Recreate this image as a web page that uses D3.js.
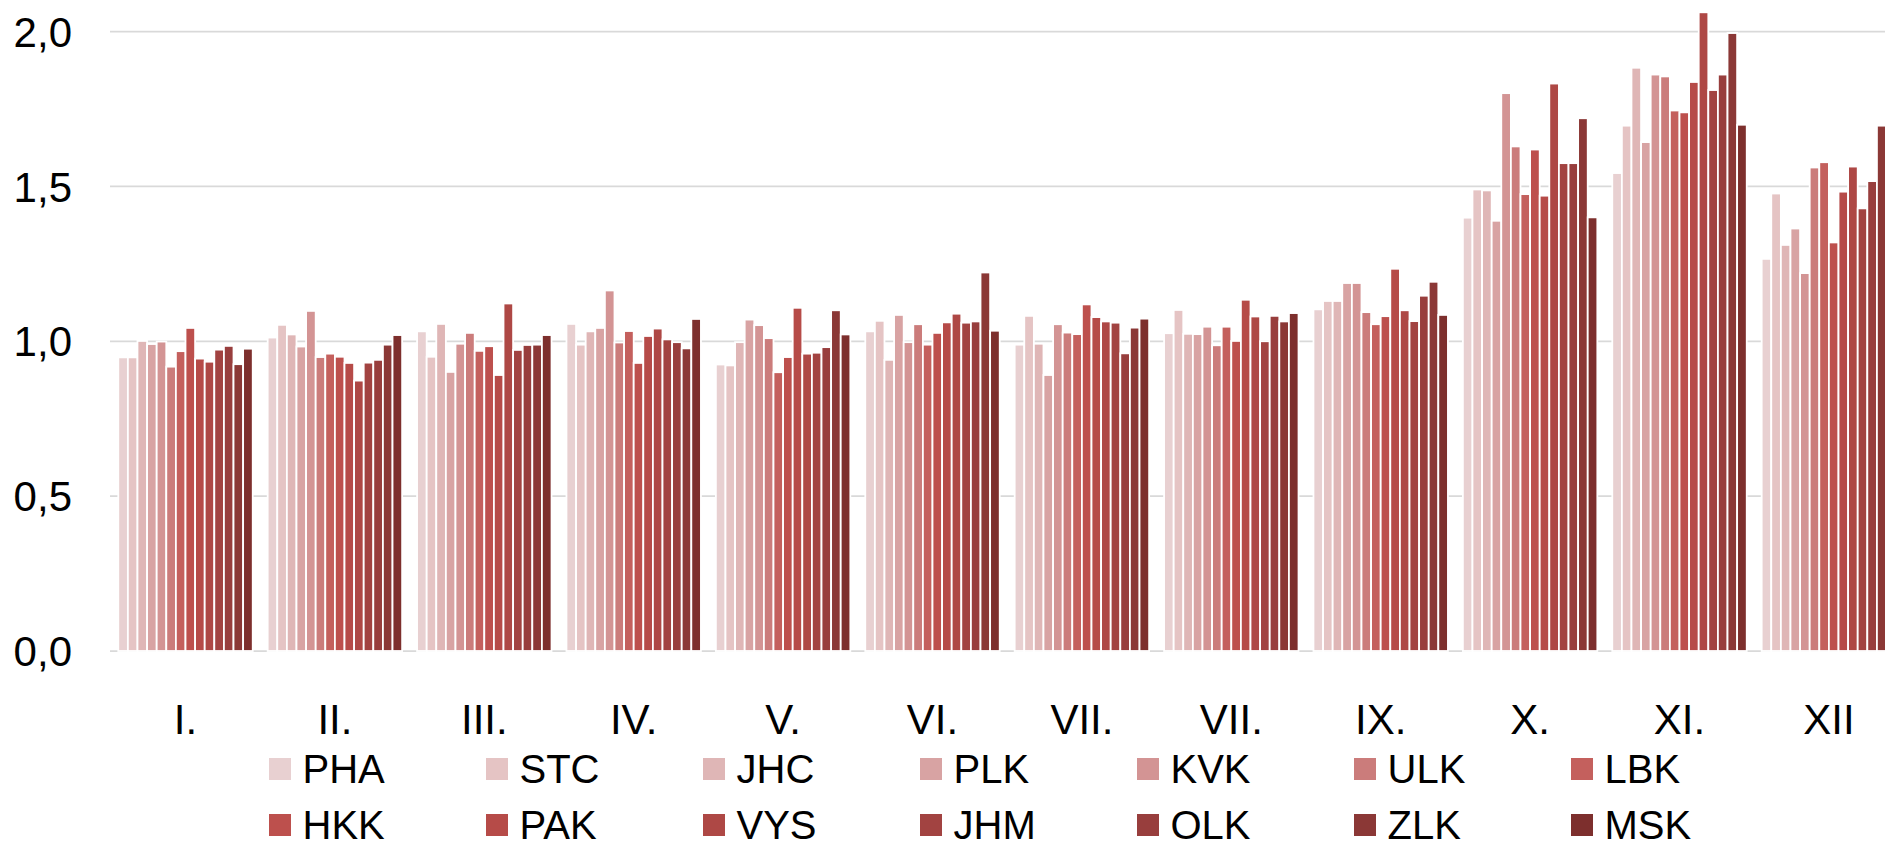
<!DOCTYPE html>
<html>
<head>
<meta charset="utf-8">
<script src="https://cdn.jsdelivr.net/npm/d3@7"></script>
<style>
	body { margin:0; background:#fff; overflow:hidden; }
	svg { display:block; font-family:"Liberation Sans", Arial, sans-serif; }
</style>
</head>
<body>
<div id="chart"></div>
<script>
'use strict';

// months (the 8th label really is "VII." in the source)
var months = ['I.','II.','III.','IV.','V.','VI.','VII.','VII.','IX.','X.','XI.','XII'];

// regions, in legend order
var regions = ['PHA','STC','JHC','PLK','KVK','ULK','LBK','HKK','PAK','VYS','JHM','OLK','ZLK','MSK'];
var colors  = ['#e8d0d1','#e5c4c4','#dfb6b6','#d8a3a3','#d39494','#cb7c7b','#c4605d',
               '#bd504d','#b64b48','#ae4845','#a24341','#983e3d','#8b3836','#7d2f2d'];

// values per region, I. .. XII
var PHA = [0.948,1.012,1.032,1.056,0.925,1.032,0.989,1.026,1.103,1.399,1.543,1.266];
var STC = [0.948,1.053,0.950,0.989,0.922,1.066,1.082,1.101,1.130,1.490,1.696,1.477];
var JHC = [1.001,1.022,1.056,1.032,0.997,0.940,0.992,1.024,1.130,1.487,1.883,1.311];
var PLK = [0.991,0.983,0.901,1.043,1.070,1.085,0.891,1.023,1.188,1.389,1.643,1.364];
var KVK = [0.999,1.098,0.992,1.164,1.052,0.997,1.055,1.047,1.188,1.801,1.861,1.220];
var ULK = [0.918,0.949,1.027,0.996,1.010,1.055,1.028,0.987,1.094,1.629,1.855,1.561];
var LBK = [0.968,0.960,0.969,1.033,0.900,0.989,1.023,1.047,1.055,1.475,1.745,1.578];
var HKK = [1.043,0.950,0.984,0.930,0.949,1.027,1.119,1.001,1.081,1.619,1.739,1.319];
var PAK = [0.944,0.930,0.891,1.017,1.108,1.061,1.078,1.134,1.234,1.470,1.837,1.483];
var VYS = [0.934,0.873,1.122,1.041,0.960,1.089,1.064,1.080,1.100,1.832,2.062,1.564];
var JHM = [0.973,0.931,0.972,1.006,0.963,1.060,1.060,1.000,1.065,1.575,1.811,1.429];
var OLK = [0.985,0.940,0.988,0.997,0.981,1.064,0.961,1.082,1.147,1.575,1.861,1.517];
var ZLK = [0.926,0.989,0.989,0.977,1.100,1.222,1.044,1.064,1.192,1.720,1.995,1.696];
var MSK = [0.976,1.020,1.020,1.072,1.022,1.034,1.073,1.091,1.085,1.400,1.699,1.600];

var yTicks = [0, 0.5, 1.0, 1.5, 2.0];

var seriesValues = [PHA,STC,JHC,PLK,KVK,ULK,LBK,HKK,PAK,VYS,JHM,OLK,ZLK,MSK];

// one row per month for the grouped bars
var rows = months.map(function(m, i){
	return {
		month: m,
		idx: i,
		values: regions.map(function(r, j){
			return {region: r, value: seriesValues[j][i]};
		})
	};
});

var width = 1885, height = 848;
var fontSize = 42;

var svg = d3.select('#chart')
	.append('svg')
		.attr('width', width)
		.attr('height', height);

// set the ranges (plot runs past the right edge, like the source)
var x0 = d3.scaleBand()
	.domain(d3.range(months.length))
	.range([110.8, 1903.6])
	.paddingInner(0.1)
	.paddingOuter(0.05);

var x1 = d3.scaleBand()
	.domain(regions)
	.range([0, x0.bandwidth()]);

var y = d3.scaleLinear()
	.domain([0, 2])
	.range([651, 31.5]);

var color = d3.scaleOrdinal().domain(regions).range(colors);

// gridlines
svg.append('g')
	.selectAll('line')
	.data(yTicks)
	.enter()
		.append('line')
		.attr('x1', 110)
		.attr('x2', width)
		.attr('y1', function(d){ return y(d); })
		.attr('y2', function(d){ return y(d); })
		.attr('stroke', '#d9d9d9')
		.attr('stroke-width', 1.75);

// y labels
var yAxis = svg.append('g')
	.attr('transform', 'translate(72,0)')
	.call(d3.axisLeft(y).tickValues(yTicks).tickSize(0).tickPadding(0)
		.tickFormat(function(d){ return d3.format('.1f')(d).replace('.', ','); }));
yAxis.select('.domain').remove();
yAxis.selectAll('text')
	.attr('font-size', fontSize)
	.attr('font-family', null)
	.attr('fill', '#000')
	.attr('dy', '0.35em');

// bars
var groups = svg.append('g')
	.selectAll('g')
	.data(rows)
	.enter()
		.append('g')
		.attr('transform', function(d){ return 'translate(' + x0(d.idx) + ',0)'; });

groups.selectAll('rect')
	.data(function(d){ return d.values; })
	.enter()
		.append('rect')
		.attr('x', function(d){ return x1(d.region); })
		.attr('width', x1.bandwidth())
		.attr('y', function(d){ return y(d.value); })
		.attr('height', function(d){ return y(0) - y(d.value); })
		.attr('fill', function(d){ return color(d.region); })
		.attr('stroke', '#fff')
		.attr('stroke-width', 1.8);

// x labels
var xAxis = svg.append('g')
	.attr('transform', 'translate(0,' + y(0) + ')')
	.call(d3.axisBottom(x0).tickSize(0).tickPadding(0)
		.tickFormat(function(i){ return months[i]; }));
xAxis.select('.domain').remove();
xAxis.selectAll('text')
	.attr('font-size', fontSize)
	.attr('font-family', null)
	.attr('fill', '#000')
	.attr('dy', null)
	.attr('y', 83);

// legend, 7 per row; second row kept just inside the bottom edge
var legend = svg.append('g')
	.selectAll('g')
	.data(regions)
	.enter()
		.append('g')
		.attr('transform', function(d, i){
			return 'translate(' + (269 + 217 * (i % 7)) + ',' + (758 + 56 * Math.floor(i / 7)) + ')';
		});

legend.append('rect')
	.attr('width', 22)
	.attr('height', 22)
	.attr('fill', function(d){ return color(d); });

legend.append('text')
	.attr('x', 33.5)
	.attr('y', 11)
	.attr('dy', '0.35em')
	.attr('font-size', 40)
	.attr('fill', '#000')
	.text(function(d){ return d; });
</script>
</body>
</html>
